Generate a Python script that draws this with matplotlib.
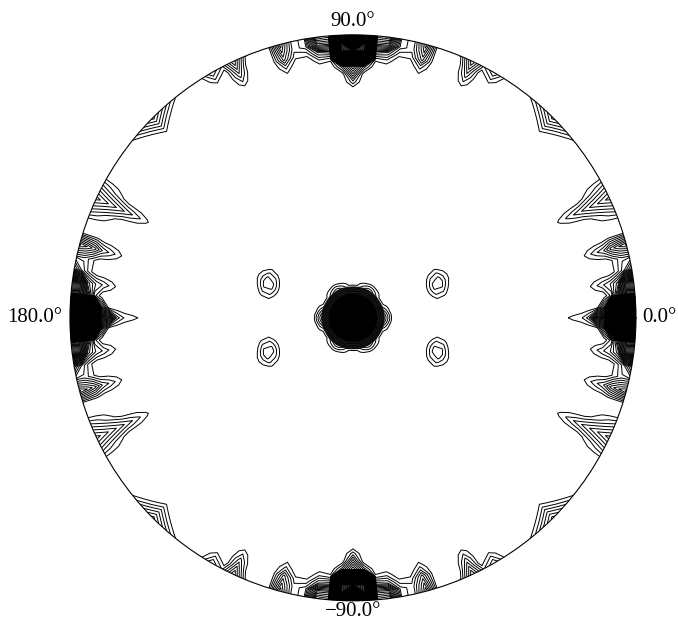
import matplotlib.pyplot as plt
import numpy as np

# maxima at the rim of the first quadrant (mirrored into the other three)
# shape "d" = diamond (pointed), "s" = square (flat) fall-off
rim_az = [0, 0, 0, 0, 7.5, 15, 25, 45, 60, 65, 75, 82.5, 90, 90, 90]
rim_height = [8, 100, 40, 5, 7.5, 7.5, 7.5, 6.5, 4, 7, 7.5, 7, 8, 100, 22]
rim_az_width = [19, 5, 11, 2.5, 2.5, 2.5, 5, 7, 3, 3, 2.5, 2.5, 18, 4.8, 10]
rim_depth = [6, 8.5, 15.5, 27, 16, 16, 21, 7, 5, 10, 11, 10, 6, 9.5, 17]
rim_shape = ["s", "s", "d", "d", "d", "d", "d", "d", "d", "d", "d", "d", "s", "s", "d"]

# maxima inside the circle (azimuth, tilt in degrees)
inner_az = [0, 0, 0, 60, 22]
inner_tilt = [0, 0, 9, 9, 29]
inner_height = [25, 100, 5, 3.5, 4.8]
inner_rx = [10.5, 8, 4, 3.8, 4.5]
inner_ry = [10.5, 8, 4, 3.8, 6]

tick_angles = [0, 90, 180, 270]
tick_labels = ["0.0°", "90.0°", "180.0°", "\u221290.0°"]

az = np.arange(0, 360.1, 2.5)
tilt = np.arange(0, 90.1, 2.5)
A, T = np.meshgrid(az, tilt)

# fold azimuth into 0..90 (mmm symmetry)
f = A % 180
f = np.where(f > 90, 180 - f, f)

Z = np.zeros_like(A)
for a, h, wa, wt, s in zip(rim_az, rim_height, rim_az_width, rim_depth, rim_shape):
    da = np.minimum(np.abs(f - a), 180 - f - a) / wa
    dt = (90 - T) / wt
    d = np.maximum(da, dt) if s == "s" else da + dt
    Z += h * np.clip(1 - d, 0, None)

X = T * np.cos(np.radians(f))
Y = T * np.sin(np.radians(f))
for a, t, h, rx, ry in zip(inner_az, inner_tilt, inner_height, inner_rx, inner_ry):
    d = None
    for img in (a, -a, 180 - a):
        px, py = t * np.cos(np.radians(img)), t * np.sin(np.radians(img))
        di = np.hypot((X - px) / rx, (Y - py) / ry)
        d = di if d is None else np.minimum(d, di)
    Z += h * np.clip(1 - d, 0, None)

levels = np.arange(1, Z.max(), 1)

fig = plt.figure(figsize=(6.78, 6.22), dpi=100)
ax = fig.add_axes([0.1032, 0.034, 0.8348, 0.91], projection="polar")
ax.contour(np.radians(A), T / 90, Z, levels=levels, colors="k", linewidths=0.7)
ax.set_ylim(0, 1)
ax.set_yticks([])
ax.grid(False)
ax.set_thetagrids(tick_angles, [""] * 4)
ax.tick_params(axis="x", direction="out", length=4)

# angle labels just outside the circle
offsets = [(6, 0, "left", "center"), (0, 9, "center", "baseline"),
           (-8, 0, "right", "center"), (0, -15, "center", "baseline")]
for ang, lab, (dx, dy, ha, va) in zip(tick_angles, tick_labels, offsets):
    ax.annotate(lab, xy=(np.radians(ang), 1), xytext=(dx, dy),
                textcoords="offset pixels", ha=ha, va=va,
                fontsize=15, family="Liberation Serif", annotation_clip=False)

plt.savefig("out.png")
